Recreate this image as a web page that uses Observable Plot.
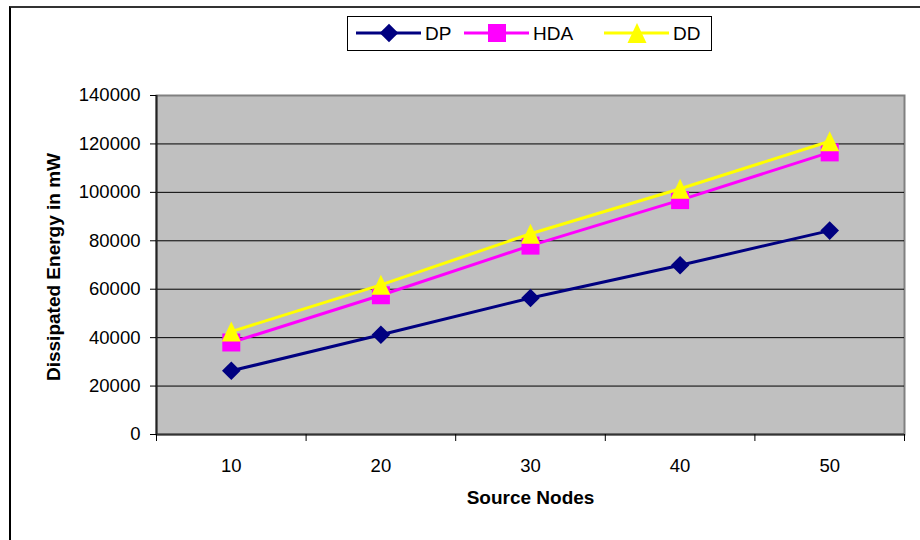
<!DOCTYPE html>
<html>
<head>
<meta charset="utf-8">
<script src="https://cdn.jsdelivr.net/npm/d3@7"></script>
<script src="https://cdn.jsdelivr.net/npm/@observablehq/plot@0.6"></script>
<style>
  html, body { margin: 0; padding: 0; background: white; }
  #wrap { position: relative; width: 920px; height: 540px; overflow: hidden; font-family: "Liberation Sans", Arial, sans-serif; }
  #outer { position: absolute; left: 9px; top: 6px; width: 940px; height: 560px; border-left: 2px solid #000; border-top: 2px solid #333; box-sizing: border-box; }
  #chart { position: absolute; left: 0; top: 0; }
  #legend { position: absolute; left: 347px; top: 16px; width: 365px; height: 35px; box-sizing: border-box; border: 1.5px solid #000; background: white; }
</style>
</head>
<body>
<div id="wrap">
  <div id="outer"></div>
  <div id="chart"></div>
  <div id="legend"></div>
</div>
<script>
const categories = [10, 20, 30, 40, 50];
const dpValues  = [26300, 41200, 56400, 69900, 84200];
const hdaValues = [38000, 57500, 78000, 96800, 116500];
const ddValues  = [42500, 61800, 82900, 101500, 121100];
const yTicks = [0, 20000, 40000, 60000, 80000, 100000, 120000, 140000];
const seriesNames = ["DP", "HDA", "DD"];
const seriesColors = ["#000080", "#FF00FF", "#FFFF00"];
const xTitle = "Source Nodes";
const yTitle = "Dissipated Energy in mW";

// custom Excel-like marker shapes (r = half size)
const diamondSym = { draw(ctx, size) { const r = Math.sqrt(size / Math.PI); ctx.moveTo(0, -r); ctx.lineTo(r, 0); ctx.lineTo(0, r); ctx.lineTo(-r, 0); ctx.closePath(); } };
const squareSym = { draw(ctx, size) { const r = Math.sqrt(size / Math.PI); ctx.rect(-r, -r, 2 * r, 2 * r); } };
const triangleSym = { draw(ctx, size) { const r = Math.sqrt(size / Math.PI); ctx.moveTo(0, -r); ctx.lineTo(r * 0.95, r); ctx.lineTo(-r * 0.95, r); ctx.closePath(); } };
const symbols = [diamondSym, squareSym, triangleSym];
const symbolR = [9.3, 9, 10];

const seriesValues = [dpValues, hdaValues, ddValues];
const rows = seriesNames.map((name, s) => categories.map((c, i) => ({ series: name, x: c, y: seriesValues[s][i] })));

const step = categories[1] - categories[0];
const xMin = categories[0] - step / 2;
const xMax = categories[categories.length - 1] + step / 2;
const boundaries = categories.map(c => c - step / 2).concat([xMax]);

const marks = [
  Plot.frame({ fill: "#C0C0C0", stroke: "#808080", strokeWidth: 2 }),
  Plot.gridY(yTicks.slice(1, -1), { stroke: "#000", strokeOpacity: 1, strokeWidth: 1 }),
  Plot.ruleY([0], { stroke: "#333", strokeWidth: 2 }),
  Plot.ruleX([xMin], { stroke: "#222", strokeWidth: 2 }),
  Plot.axisY(yTicks, { tickSize: 6, tickPadding: 10, tickFormat: d3.format("d"), label: null, fontSize: 18.5 }),
  Plot.axisX(boundaries, { tickSize: 7, tickFormat: () => "", label: null }),
  Plot.axisX(categories, { tickSize: 0, tickPadding: 24, tickFormat: d3.format("d"), label: null, fontSize: 18.5 }),
  Plot.text([xTitle], { text: d => d, frameAnchor: "bottom", dy: 69, fontWeight: "bold", fontSize: 19 }),
  Plot.text([yTitle], { text: d => d, frameAnchor: "left", textAnchor: "middle", dx: -103, dy: 2, rotate: -90, fontWeight: "bold", fontSize: 19 })
];
rows.forEach((data, s) => {
  marks.push(Plot.line(data, { x: "x", y: "y", stroke: seriesColors[s], strokeWidth: 3 }));
  marks.push(Plot.dot(data, { x: "x", y: "y", fill: seriesColors[s], stroke: "none", symbol: symbols[s], r: symbolR[s] }));
});

const chart = Plot.plot({
  width: 920,
  height: 540,
  marginLeft: 156,
  marginRight: 16,
  marginTop: 95,
  marginBottom: 106,
  x: { domain: [xMin, xMax] },
  y: { domain: [yTicks[0], yTicks[yTicks.length - 1]] },
  style: { fontFamily: "'Liberation Sans', Arial, sans-serif", fontSize: "18px", background: "transparent", color: "#000", overflow: "visible" },
  marks
});
document.getElementById("chart").appendChild(chart);

// legend
const itemX = [8, 116, 256];
const lg = d3.select("#legend").append("svg").attr("width", 362).attr("height", 32).style("display", "block");
seriesNames.forEach((name, s) => {
  const g = lg.append("g").attr("transform", `translate(${itemX[s]},16)`);
  g.append("line").attr("x1", 0).attr("x2", 65).attr("y1", 0).attr("y2", 0).attr("stroke", seriesColors[s]).attr("stroke-width", 3);
  g.append("path").attr("transform", "translate(33,0)").attr("d", d3.symbol(symbols[s], symbolR[s] * symbolR[s] * Math.PI)()).attr("fill", seriesColors[s]);
  g.append("text").attr("x", 69).attr("y", 7).attr("font-size", 19).attr("font-family", "'Liberation Sans', Arial, sans-serif").attr("fill", "#000").text(name);
});
</script>
</body>
</html>
